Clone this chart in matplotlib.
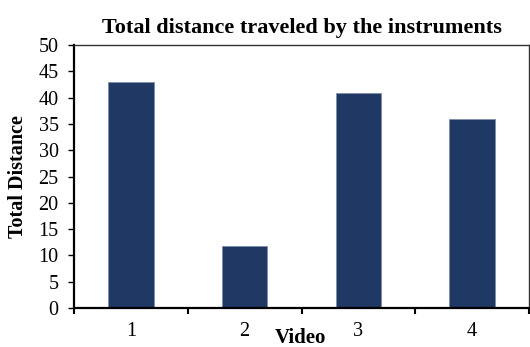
import matplotlib
matplotlib.use("Agg")
import matplotlib.pyplot as plt
from matplotlib.ticker import FixedLocator, MultipleLocator

videos = ["1", "2", "3", "4"]
distances = [43.0, 11.8, 40.8, 36.0]

plt.rcParams['font.family'] = ['Liberation Serif', 'DejaVu Serif']

fig = plt.figure(figsize=(5.30, 3.47), dpi=100)
ax = fig.add_axes([74/530, 1-308/347, (529-74)/530, (308-45)/347])

x = list(range(1, len(videos)+1))
ax.bar(x, distances, width=0.4, color="#203864", edgecolor="#7f8ea8", linewidth=0.6)

ax.set_xlim(0.5, len(videos)+0.5)
ax.set_ylim(0, 50)
ax.yaxis.set_major_locator(MultipleLocator(5))
ax.set_xticks(x)
ax.set_xticklabels(videos)
ax.xaxis.set_minor_locator(FixedLocator([i+0.5 for i in range(len(videos)+1)]))
ax.tick_params(axis='x', which='major', length=0, pad=10, labelsize=14.5)
ax.tick_params(axis='x', which='minor', length=4, width=1.5, direction='out')
ax.tick_params(axis='y', length=4, width=1, direction='out', labelsize=14.5, pad=7)

for s in ['left', 'bottom']:
    ax.spines[s].set_linewidth(1.6)
for s in ['top', 'right']:
    ax.spines[s].set_linewidth(1.0)
    ax.spines[s].set_color("#333333")

ax.set_title("Total distance traveled by the instruments", fontsize=16, fontweight='bold', pad=9)
ax.set_xlabel("Video", fontsize=15, fontweight='bold')
ax.xaxis.set_label_coords((300-74)/455, -(328-308)/263)
ax.set_ylabel("Total Distance", fontsize=14.5, fontweight='bold')
ax.yaxis.set_label_coords(-(74-28)/455, 0.5)

fig.savefig("out.png", dpi=100)
